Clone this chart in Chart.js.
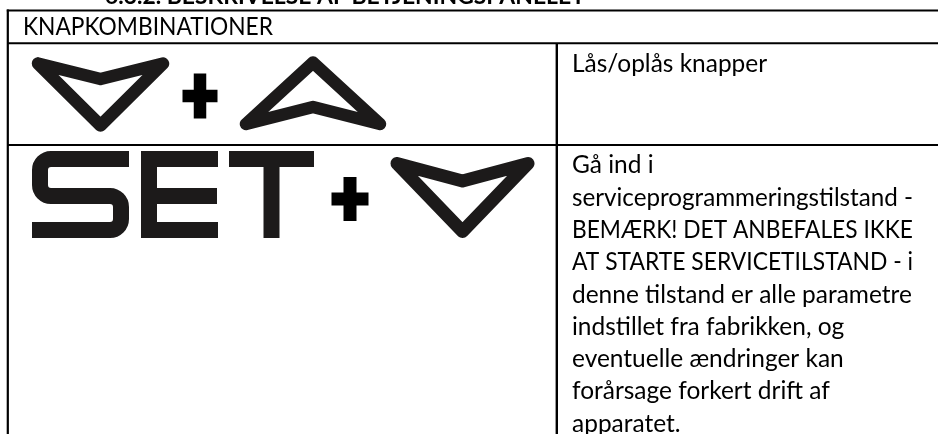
<!DOCTYPE html>
<html>
<head>
<meta charset="utf-8">
<title>Knapkombinationer</title>
<script src="https://cdn.jsdelivr.net/npm/chart.js@4.4.1/dist/chart.umd.min.js"></script>
<style>
  html, body { margin: 0; padding: 0; background: #fff; overflow: hidden; }
  #wrap { width: 938px; height: 434px; }
</style>
</head>
<body>
<div id="wrap"><canvas id="panelTable" width="938" height="434"></canvas></div>
<script>
// table content
const sectionTitle = "6.3.2. BESKRIVELSE AF BETJENINGSPANELET";
const headerTitle = "KNAPKOMBINATIONER";
const rowKeys = [["down", "+", "up"], ["SET", "+", "down"]];
const rowTexts = [
  ["Lås/oplås knapper"],
  [
    "Gå ind i",
    "serviceprogrammeringstilstand -",
    "BEMÆRK! DET ANBEFALES IKKE",
    "AT STARTE SERVICETILSTAND - i",
    "denne tilstand er alle parametre",
    "indstillet fra fabrikken, og",
    "eventuelle ændringer kan",
    "forårsage forkert drift af",
    "apparatet.",
  ],
];

// layout (page pixels)
const W = 938, H = 434;
const tableLeft = 7.8, tableTop = 10.5, headerBottom = 43.3, colSplit = 556.8;
const rowBottoms = [145, H + 5]; // second row runs off the page
const textX = 572, headerTextX = 23, firstBaseline = 28.3, lineStep = 32.3;
const lineMaxW = 341, headerMaxW = 250;
const ink = "#1c1a1a";

// where each key icon sits in its row
const keySlots = [
  [
    { cx: 100.5, top: 63.5, w: 125, h: 62, notch: 15.5, lw: 12.5 },
    { cx: 200, cy: 96, hw: 17.5, hh: 22.5, lw: 12.5 },
    { cx: 313, top: 62.5, w: 134, h: 61.5, notch: 17, lw: 12.5 },
  ],
  [
    { x0: 32, top: 151, h: 87 },
    { cx: 350, cy: 199, hw: 18.5, hh: 22, lw: 13 },
    { cx: 462.5, top: 163.5, w: 131, h: 68, notch: 17.5, lw: 13 },
  ],
];

const lineDs = (pts, width, color, extra) => Object.assign({
  type: "line",
  data: pts.map((p) => ({ x: p[0], y: p[1] })),
  borderColor: color,
  borderWidth: width,
  pointRadius: 0,
  tension: 0,
  fill: false,
  clip: false,
  borderCapStyle: "butt",
  borderJoinStyle: "miter",
}, extra || {});

function arrowDs(kind, s) {
  const l = s.cx - s.w / 2, r = s.cx + s.w / 2;
  let pts;
  if (kind === "down") {
    pts = [[l, s.top], [s.cx, s.top + s.notch], [r, s.top], [s.cx, s.top + s.h], [l, s.top]];
  } else {
    const b = s.top + s.h;
    pts = [[s.cx, s.top], [r, b], [s.cx, b - s.notch], [l, b], [s.cx, s.top]];
  }
  return lineDs(pts, s.lw, ink, { borderJoinStyle: "round", borderCapStyle: "round" });
}

function plusDs(s) {
  return [
    lineDs([[s.cx - s.hw, s.cy], [s.cx + s.hw, s.cy]], s.lw, "#000"),
    lineDs([[s.cx, s.cy - s.hh], [s.cx, s.cy + s.hh]], s.lw, "#000"),
  ];
}

// grid lines of the table
const datasets = [
  lineDs([[tableLeft - 1, tableTop], [W + 2, tableTop]], 2.2, "#000"),
  lineDs([[tableLeft, tableTop - 1], [tableLeft, H + 2]], 2.2, "#000"),
  lineDs([[tableLeft, headerBottom], [W + 2, headerBottom]], 2, "#000"),
  lineDs([[colSplit, headerBottom], [colSplit, H + 2]], 2.4, "#000"),
  lineDs([[tableLeft, rowBottoms[0]], [W + 2, rowBottoms[0]]], 2, "#000"),
];

rowKeys.forEach((keys, r) => {
  keys.forEach((k, i) => {
    const slot = keySlots[r][i];
    if (k === "down" || k === "up") datasets.push(arrowDs(k, slot));
    else if (k === "+") datasets.push(...plusDs(slot));
  });
});

// SET glyph and all text go through a small plugin
const tablePlugin = {
  id: "tableText",
  afterDatasetsDraw(chart) {
    const { ctx, scales } = chart;
    const X = (v) => scales.x.getPixelForValue(v);
    const Y = (v) => scales.y.getPixelForValue(v);
    ctx.save();

    rowKeys.forEach((keys, r) => {
      keys.forEach((k, i) => {
        if (k === "SET") drawSet(ctx, X, Y, keySlots[r][i]);
      });
    });

    const family = "Lato, 'Open Sans', sans-serif";
    ctx.fillStyle = "#000";
    ctx.textBaseline = "alphabetic";
    ctx.textAlign = "left";

    // heading, mostly cut off at the top of the page
    ctx.font = `bold 100px ${family}`;
    const hs = 100 * 480 / ctx.measureText(sectionTitle).width;
    ctx.font = `bold ${hs}px ${family}`;
    ctx.fillText(sectionTitle, X(105), Y(4));

    // body font sized so the long line fits its width
    ctx.font = `100px ${family}`;
    const size = 100 * 345 / ctx.measureText(rowTexts[1][1]).width;
    ctx.font = `${size}px ${family}`;

    ctx.fillText(headerTitle, X(headerTextX), Y(tableTop + 24.5), headerMaxW);

    rowTexts.forEach((lines, r) => {
      const rowTop = r === 0 ? headerBottom : rowBottoms[r - 1];
      lines.forEach((t, j) => {
        ctx.fillText(t, X(textX), Y(rowTop + firstBaseline + j * lineStep), lineMaxW);
      });
    });
    ctx.restore();
  },
};

function drawSet(ctx, X, Y, s) {
  const st = 16, top = s.top, bot = s.top + s.h;
  const mid = top + 45;
  ctx.fillStyle = ink;
  ctx.strokeStyle = ink;
  // S
  const l = s.x0, rgt = s.x0 + 97, half = st / 2, rad = 11;
  ctx.lineWidth = st;
  ctx.lineCap = "butt";
  ctx.beginPath();
  ctx.moveTo(X(rgt), Y(top + half));
  ctx.arcTo(X(l + half), Y(top + half), X(l + half), Y(mid), rad);
  ctx.arcTo(X(l + half), Y(mid), X(rgt - half), Y(mid), rad);
  ctx.arcTo(X(rgt - half), Y(mid), X(rgt - half), Y(bot - half), rad);
  ctx.arcTo(X(rgt - half), Y(bot - half), X(l), Y(bot - half), rad);
  ctx.lineTo(X(l), Y(bot - half));
  ctx.stroke();
  // E
  const ex = 141, ew = 77;
  ctx.fillRect(X(ex), Y(top), st, s.h);
  ctx.fillRect(X(ex), Y(top), ew, st);
  ctx.fillRect(X(ex), Y(mid - half), ew - 1, st);
  ctx.fillRect(X(ex), Y(bot - st), ew, st);
  // T
  const tx = 229, tw = 85;
  ctx.fillRect(X(tx), Y(top), tw, st);
  ctx.fillRect(X(tx + tw / 2 - half), Y(top), st, s.h);
}

function build() {
  new Chart(document.getElementById("panelTable"), {
    type: "line",
    data: { datasets },
    options: {
      responsive: false,
      animation: false,
      devicePixelRatio: 1,
      parsing: false,
      layout: { padding: 0 },
      events: [],
      plugins: { legend: { display: false }, tooltip: { enabled: false }, title: { display: false } },
      scales: {
        x: { type: "linear", min: 0, max: W, display: false },
        y: { type: "linear", min: 0, max: H, reverse: true, display: false },
      },
    },
    plugins: [tablePlugin],
  });
}

if (document.fonts && document.fonts.load) {
  Promise.all([document.fonts.load("24px Lato"), document.fonts.load("bold 24px Lato")])
    .then(build, build);
} else {
  build();
}
</script>
</body>
</html>
